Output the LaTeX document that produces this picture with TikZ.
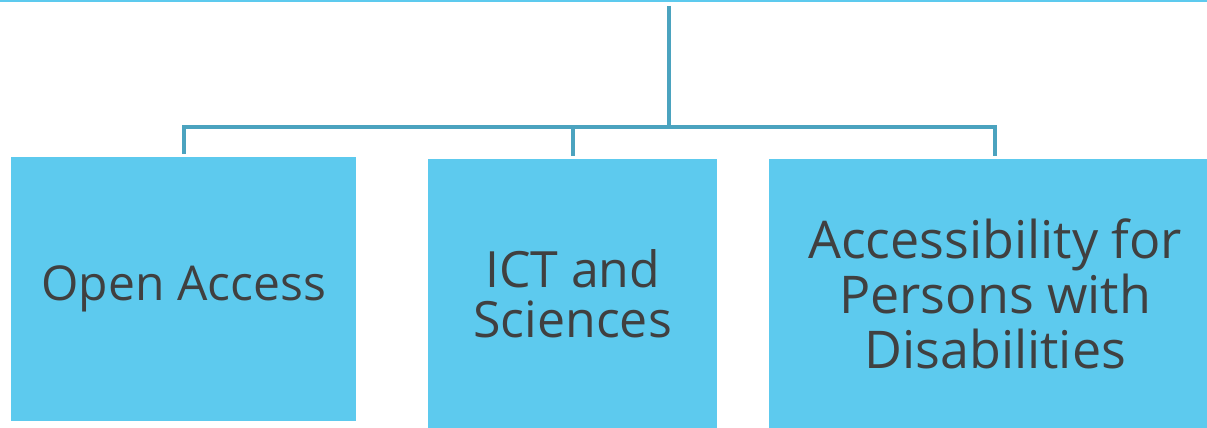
\documentclass[tikz,border=0pt]{standalone}
\usepackage{fontspec}
\setmainfont{Open Sans}
\usetikzlibrary{positioning}
\definecolor{boxblue}{HTML}{5DCAEE}
\definecolor{linkblue}{HTML}{4BA3BF}
\definecolor{textgray}{HTML}{404040}
\tikzstyle{topic} = [rectangle, anchor=north west, inner sep=0pt, align=center, fill=boxblue, text=textgray, font=\fontsize{50}{55}\selectfont]
\tikzstyle{link} = [draw=linkblue, line width=4pt, shorten >=3pt]

\begin{document}
\begin{tikzpicture}[x=1pt, y=-1pt]
\useasboundingbox (0,0) rectangle (1207,428);
\draw [boxblue, line width=2pt] (0,1) -- (1207,1);

\node (open) [topic, minimum width=345pt, minimum height=264pt, font=\fontsize{48}{55}\selectfont] at (11,157) {Open Access};

\node (ict) [topic, minimum width=289pt, minimum height=269pt, font=\fontsize{50}{50}\selectfont] at (428,159) {ICT and\\Sciences};

\node (access) [topic, minimum width=452pt, minimum height=269pt, font=\fontsize{52}{55}\selectfont] at (769,159) {Accessibility for\\Persons with\\Disabilities};

\coordinate (root) at (669,6);
\coordinate (bus) at (669,127);

\draw [draw=linkblue, line width=4pt] (root) -- (bus);
\draw [link] (bus) -| (open.north);
\draw [link] (bus) -| (ict.north);
\draw [link] (bus) -| (access.north);

\end{tikzpicture}
\end{document}
